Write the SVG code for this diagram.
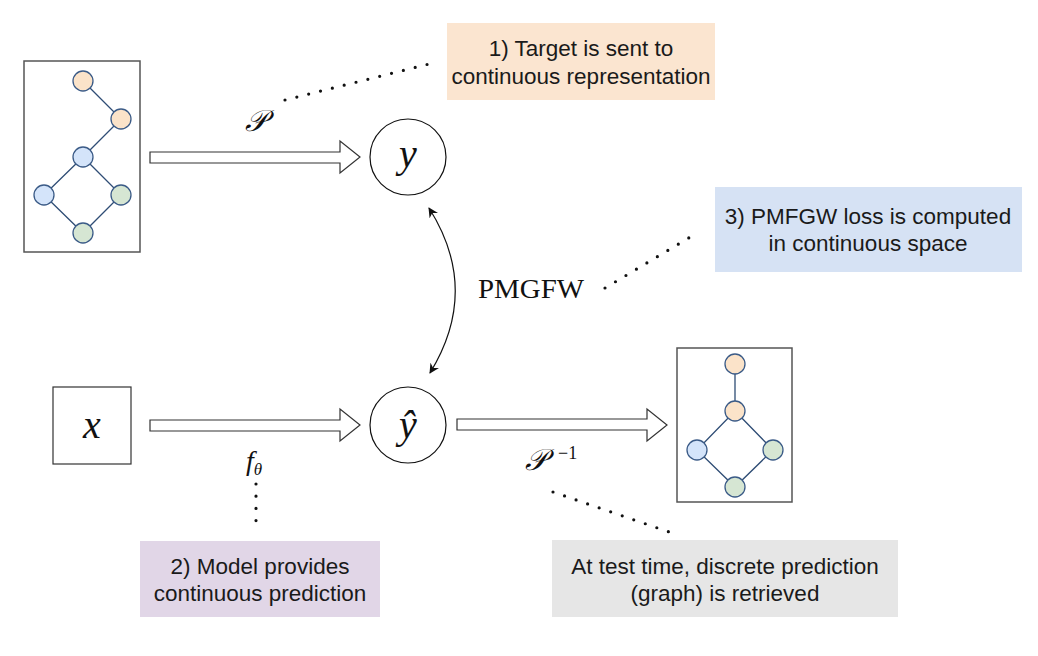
<svg xmlns="http://www.w3.org/2000/svg" width="1038" height="656" viewBox="0 0 1038 656">
<defs>
<style>
.frame{fill:#fff;stroke:#555;stroke-width:1.5}
.edge{stroke:#2f4d75;stroke-width:1.3;fill:none}
.n{stroke:#3b5b87;stroke-width:1.3}
.o{fill:#fbe3c9}
.b{fill:#d4e4fa}
.g{fill:#d6e6d3}
.block{fill:#fff;stroke:#333;stroke-width:1.2}
.circ{fill:#fff;stroke:#111;stroke-width:1.2}
.dot{stroke:#111;stroke-width:3.2;stroke-dasharray:0 12.2;stroke-linecap:round;fill:none}
.note{font-family:"Liberation Sans",Arial,sans-serif;font-size:22.5px;fill:#1a1a1a;text-anchor:middle}
.math{font-family:"Liberation Serif","DejaVu Serif",serif;font-style:italic;fill:#111;text-anchor:middle}
.cm{font-family:"Liberation Serif","DejaVu Serif",serif;fill:#111}
</style>
<marker id="ah" viewBox="0 0 10 10" refX="9" refY="5" markerWidth="10" markerHeight="10" markerUnits="userSpaceOnUse" orient="auto-start-reverse">
<path d="M0,0 L10,5 L0,10 L3,5 z" fill="#111"/>
</marker>
</defs>
<rect width="1038" height="656" fill="#fff"/>

<g id="connectors">
<polygon class="block" points="150,152 340,152 340,141 360,157 340,173 340,163 150,163"/>
<polygon class="block" points="150,420 340,420 340,409 360,425 340,441 340,431 150,431"/>
<polygon class="block" points="457,419 647,419 647,409 667,425 647,441 647,430 457,430"/>
<path d="M429,208 Q481,290 430,373" fill="none" stroke="#111" stroke-width="1.2" marker-start="url(#ah)" marker-end="url(#ah)"/>
<line class="dot" x1="285" y1="100" x2="433" y2="63"/>
<line class="dot" x1="605" y1="288" x2="697" y2="233"/>
<line class="dot" x1="256" y1="484" x2="256" y2="531"/>
<line class="dot" x1="553" y1="492" x2="675" y2="534"/>
</g>

<g id="graph-target">
<rect class="frame" x="24" y="61" width="116" height="191"/>
<path class="edge" d="M83,81 L121,119 L83,157 L44,195 L83,233 L121,195 L83,157"/>
<circle class="n o" cx="83" cy="81" r="10"/>
<circle class="n o" cx="121" cy="119" r="10"/>
<circle class="n b" cx="83" cy="157" r="10"/>
<circle class="n b" cx="44" cy="195" r="10"/>
<circle class="n g" cx="121" cy="195" r="10"/>
<circle class="n g" cx="83" cy="233" r="10"/>
</g>

<g id="node-y">
<circle class="circ" cx="408" cy="157" r="38"/>
<text class="math" x="408" y="167" font-size="40">y</text>
</g>

<g id="node-x">
<rect x="53" y="387" width="78" height="77" fill="#fff" stroke="#333" stroke-width="1.2"/>
<text class="math" x="92" y="438" font-size="40">x</text>
</g>

<g id="node-yhat">
<circle class="circ" cx="408" cy="425" r="38"/>
<text class="math" x="408" y="438" font-size="40">ŷ</text>
</g>

<g id="graph-pred">
<rect class="frame" x="677" y="348" width="115" height="154"/>
<path class="edge" d="M735,364 L735,411 L697,450 L735,487 L773,450 L735,411"/>
<circle class="n o" cx="735" cy="364" r="10"/>
<circle class="n o" cx="735" cy="411" r="10"/>
<circle class="n b" cx="697" cy="450" r="10"/>
<circle class="n g" cx="773" cy="450" r="10"/>
<circle class="n g" cx="735" cy="487" r="10"/>
</g>

<g id="labels">
<text class="math" x="256" y="131" font-size="30">𝒫</text>
<text class="math" x="254" y="470" font-size="28">f<tspan font-size="17" dy="5">θ</tspan></text>
<text class="math" x="536" y="470" font-size="30" text-anchor="start">𝒫</text>
<text class="cm" x="558" y="459" font-size="18">−1</text>
<text class="cm" x="478" y="298" font-size="27" textLength="106" lengthAdjust="spacingAndGlyphs">PMGFW</text>
</g>

<g id="note1">
<rect x="447" y="23" width="268" height="77" fill="#fbe5d0"/>
<text class="note" x="581" y="56">1) Target is sent to</text>
<text class="note" x="581" y="84">continuous representation</text>
</g>

<g id="note3">
<rect x="715" y="187" width="307" height="85" fill="#d6e2f4"/>
<text class="note" x="868" y="224">3) PMFGW loss is computed</text>
<text class="note" x="868" y="251">in continuous space</text>
</g>

<g id="note2">
<rect x="140" y="541" width="240" height="76" fill="#e1d6e7"/>
<text class="note" x="260" y="574">2) Model provides</text>
<text class="note" x="260" y="601">continuous prediction</text>
</g>

<g id="note4">
<rect x="552" y="540" width="346" height="77" fill="#e6e6e6"/>
<text class="note" x="725" y="574">At test time, discrete prediction</text>
<text class="note" x="725" y="601">(graph) is retrieved</text>
</g>
</svg>
